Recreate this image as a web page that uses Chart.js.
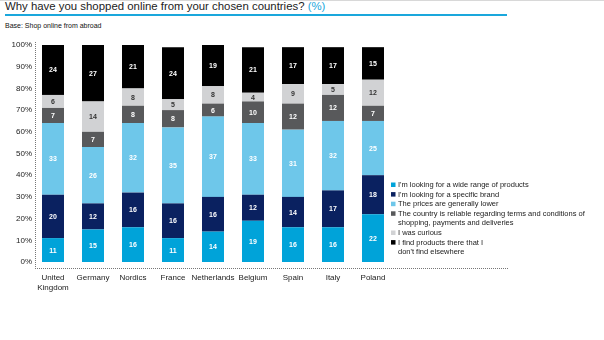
<!DOCTYPE html>
<html>
<head>
<meta charset="utf-8">
<script src="https://cdn.jsdelivr.net/npm/chart.js@4.4.1/dist/chart.umd.min.js"></script>
<style>
    body { margin: 0; width: 604px; height: 340px; position: relative; overflow: hidden; background: #fff; font-family: "Liberation Sans", Arial, sans-serif; }
    #topline { position: absolute; left: 0; top: 0; width: 604px; height: 1px; background: #d8d8d8; }
    #title { position: absolute; left: 5px; top: 0px; font-size: 11.4px; line-height: 13px; color: #222; white-space: nowrap; }
    #title span { color: #1aa7dc; }
    #rule { position: absolute; left: 5px; top: 14px; width: 502px; height: 2px; background: #1aa7dc; }
    #base { position: absolute; left: 5px; top: 22px; font-size: 7px; line-height: 8px; color: #111; white-space: nowrap; }
    #wrap { position: absolute; left: 0; top: 0; width: 604px; height: 340px; }
</style>
</head>
<body>
<div id="topline"></div>
<div id="title">Why have you shopped online from your chosen countries? <span>(%)</span></div>
<div id="rule"></div>
<div id="base">Base: Shop online from abroad</div>
<div id="wrap"><canvas id="chart"></canvas></div>
<script>
const COUNTRIES = [['United', 'Kingdom'], 'Germany', 'Nordics', 'France', 'Netherlands', 'Belgium', 'Spain', 'Italy', 'Poland'];

const SERIES_LABELS = [
    "I'm looking for a wide range of products",
    "I'm looking for a specific brand",
    'The prices are generally lower',
    'The country is reliable regarding terms and conditions of\nshopping, payments and deliveries',
    'I was curious',
    "I find products there that I\ndon't find elsewhere",
];

const WIDE_RANGE = [11, 15, 16, 11, 14, 19, 16, 16, 22];
const SPECIFIC_BRAND = [20, 12, 16, 16, 16, 12, 14, 17, 18];
const PRICES_LOWER = [33, 26, 32, 35, 37, 33, 31, 32, 25];
const RELIABLE = [7, 7, 8, 8, 6, 10, 12, 12, 7];
const CURIOUS = [6, 14, 8, 5, 8, 4, 9, 5, 12];
const NOT_ELSEWHERE = [24, 27, 21, 24, 19, 21, 17, 17, 15];

const Y_TICKS = [0, 10, 20, 30, 40, 50, 60, 70, 80, 90, 100];

const COLORS = ['#00a3d9', '#0a2160', '#6ec7ea', '#58595b', '#d1d2d4', '#000000'];
const TEXT_COLORS = ['#fff', '#fff', '#fff', '#fff', '#333', '#fff'];

const SERIES = [WIDE_RANGE, SPECIFIC_BRAND, PRICES_LOWER, RELIABLE, CURIOUS, NOT_ELSEWHERE];

const FONT = '"Liberation Sans", Arial, sans-serif';

// dotted axes, the x one runs on under the legend
const axesPlugin = {
    id: 'axes',
    afterDraw(chart) {
        const ctx = chart.ctx;
        ctx.save();
        ctx.strokeStyle = '#777';
        ctx.lineWidth = 1;
        ctx.setLineDash([1, 1]);
        ctx.beginPath();
        ctx.moveTo(35.5, 42);
        ctx.lineTo(35.5, 268);
        ctx.moveTo(35, 268.5);
        ctx.lineTo(508, 268.5);
        ctx.stroke();
        ctx.restore();
    }
};

// value inside each segment
const valuesPlugin = {
    id: 'values',
    afterDatasetsDraw(chart) {
        const ctx = chart.ctx;
        ctx.save();
        ctx.font = 'bold 7px ' + FONT;
        ctx.textAlign = 'center';
        ctx.textBaseline = 'middle';
        chart.data.datasets.forEach((ds, i) => {
            const meta = chart.getDatasetMeta(i);
            ctx.fillStyle = TEXT_COLORS[i];
            meta.data.forEach((bar, j) => {
                const top = Math.max(bar.y, chart.chartArea.top);
                ctx.fillText(ds.data[j], bar.x, (top + bar.base) / 2 + 0.5);
            });
        });
        ctx.restore();
    }
};

// legend to the right of the bars
const legendPlugin = {
    id: 'sideLegend',
    afterDraw(chart) {
        const ctx = chart.ctx;
        ctx.save();
        ctx.font = '7.5px ' + FONT;
        ctx.textBaseline = 'middle';
        let y = 185;
        chart.data.datasets.forEach((ds, i) => {
            ctx.fillStyle = COLORS[i];
            ctx.fillRect(391, y - 2.5, 4.5, 4.5);
            ctx.fillStyle = '#222';
            ds.label.split('\n').forEach(line => {
                ctx.fillText(line, 398, y);
                y += 9.6;
            });
        });
        ctx.restore();
    }
};

new Chart(document.getElementById('chart'), {
    type: 'bar',
    data: {
        labels: COUNTRIES,
        datasets: SERIES.map((values, i) => ({
            label: SERIES_LABELS[i],
            data: values,
            backgroundColor: COLORS[i],
            barPercentage: 0.55,
            categoryPercentage: 1,
        }))
    },
    options: {
        responsive: true,
        maintainAspectRatio: false,
        animation: false,
        layout: { padding: { top: 45, right: 211, left: 0, bottom: 0 } },
        plugins: {
            legend: { display: false },
            tooltip: { enabled: false },
        },
        scales: {
            x: {
                stacked: true,
                grid: { display: false, drawTicks: false },
                border: { display: false },
                ticks: {
                    padding: 11,
                    color: '#222',
                    font: { family: FONT, size: 8 },
                    maxRotation: 0,
                    autoSkip: false,
                },
                afterFit(scale) { scale.height = 78; }
            },
            y: {
                stacked: true,
                min: 0,
                max: 100,
                grid: { display: false, drawTicks: false },
                border: { display: false },
                afterBuildTicks(scale) { scale.ticks = Y_TICKS.map(v => ({ value: v })); },
                ticks: {
                    padding: 1,
                    color: '#222',
                    font: { family: FONT, size: 8 },
                    callback: v => v + '%',
                },
                afterFit(scale) { scale.width = 33; }
            }
        }
    },
    plugins: [axesPlugin, valuesPlugin, legendPlugin]
});
</script>
</body>
</html>
